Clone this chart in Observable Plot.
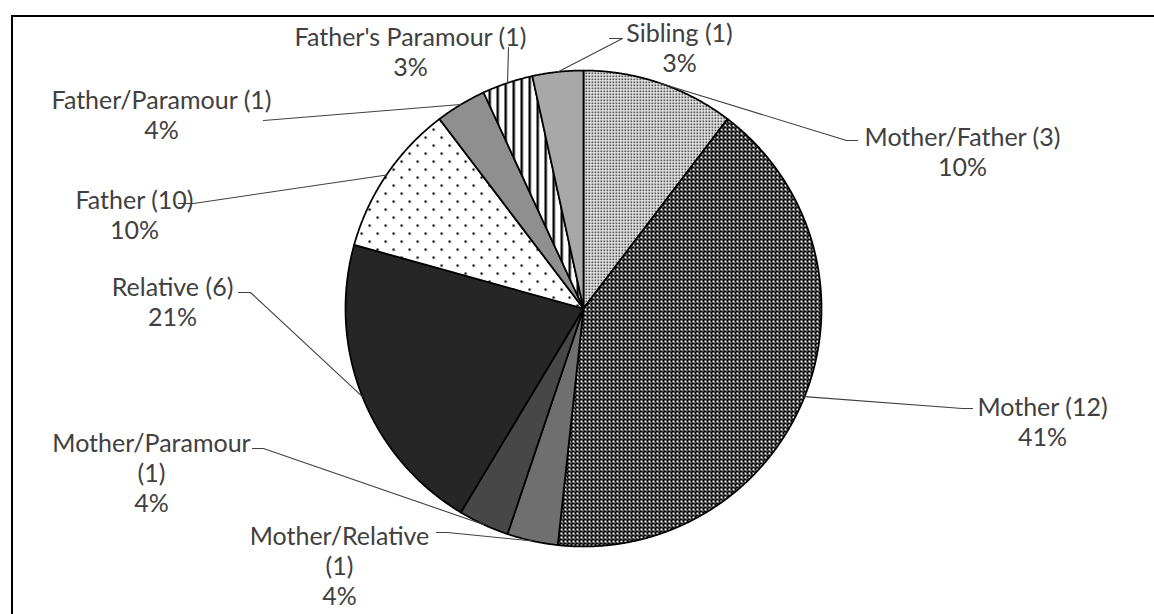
<!DOCTYPE html>
<html><head><meta charset="utf-8">
<script src="https://cdn.jsdelivr.net/npm/d3@7"></script>
<script src="https://cdn.jsdelivr.net/npm/@observablehq/plot@0.6"></script>
<style>
html,body{margin:0;padding:0;background:#fff;overflow:hidden;}
#wrap{position:relative;width:1154px;height:614px;overflow:hidden;}
#frame{position:absolute;left:11px;top:15px;width:2000px;height:2000px;border-top:2px solid #000;border-left:2px solid #000;pointer-events:none;}
</style></head><body>
<div id="wrap"><div id="chart"></div><div id="frame"></div></div>
<script>
// ---- data ----
const categories = ["Mother/Father","Mother","Mother/Relative","Mother/Paramour","Relative","Father","Father/Paramour","Father's Paramour","Sibling"];
const counts = [3,12,1,1,6,3,1,1,1];
const labelNames = ["Mother/Father (3)","Mother (12)","Mother/Relative\n(1)","Mother/Paramour\n(1)","Relative (6)","Father (10)","Father/Paramour (1)","Father's Paramour (1)","Sibling (1)"];
const percentLabels = ["10%","41%","4%","4%","21%","10%","4%","3%","3%"];

// ---- styles ----
const sliceFills = ["url(#pMF)","url(#pM)","#6f6f6f","#474747","#262626","url(#pF)","#8f8f8f","url(#pFP)","#a8a8a8"];

// ---- layout (pixels) ----
const W = 1154, H = 614, CX = 583, CY = 308, R = 238;
const FS = 25, LH = 30;
const labelLayout = [
  {tx: 962,  base: 142, pts: [[846,140],[857,140]]},
  {tx: 1042, base: 412, pts: [[962,408],[972,408]]},
  {tx: 339,  base: 541, pts: [[447,532],[436,532]]},
  {tx: 151,  base: 448, pts: [[263,448],[252,448]]},
  {tx: 172,  base: 292, pts: [[250,292],[238,292]]},
  {tx: 134,  base: 205, pts: [[193,203],[178,203]]},
  {tx: 161,  base: 105, pts: [[263,120]]},
  {tx: 410,  base: 42,  pts: [[508,47]]},
  {tx: 679,  base: 38,  pts: [[622,38],[609,38]]}
];
const toX = px => (px - CX) / R;
const toY = py => (CY - py) / R;

const arcs = d3.pie().sort(null).value(d => d)(counts);

const sliceMarks = arcs.map((a, i) => {
  const n = Math.max(4, Math.ceil((a.endAngle - a.startAngle) / (Math.PI / 720)));
  const pts = [[0, 0]];
  for (let k = 0; k <= n; k++) {
    const t = a.startAngle + (a.endAngle - a.startAngle) * k / n;
    pts.push([Math.sin(t), Math.cos(t)]);
  }
  return Plot.line(pts, {x: d => d[0], y: d => d[1], curve: "linear-closed",
    fill: sliceFills[i], stroke: "#000", strokeWidth: 1.75, strokeLinejoin: "round"});
});

const leaderMarks = arcs.map((a, i) => {
  const m = (a.startAngle + a.endAngle) / 2;
  const pts = [[Math.sin(m), Math.cos(m)], ...labelLayout[i].pts.map(([px, py]) => [toX(px), toY(py)])];
  return Plot.line(pts, {x: d => d[0], y: d => d[1], stroke: "#404040", strokeWidth: 1.1, curve: "linear"});
});

const labelData = categories.map((c, i) => ({
  x: toX(labelLayout[i].tx),
  y: toY(labelLayout[i].base - 0.71 * FS),
  text: labelNames[i] + "\n" + percentLabels[i]
}));

const svg = Plot.plot({
  width: W, height: H, margin: 0,
  x: {domain: [toX(0), toX(W)], axis: null},
  y: {domain: [toY(H), toY(0)], axis: null},
  style: {background: "transparent", overflow: "visible"},
  marks: [
    ...sliceMarks,
    ...leaderMarks,
    Plot.text(labelData, {x: "x", y: "y", text: "text", textAnchor: "middle", lineAnchor: "top",
      lineHeight: LH / FS, fontSize: FS, fontFamily: "Lato", fill: "#404040"})
  ]
});

svg.insertAdjacentHTML("afterbegin", `
<defs>
  <pattern id="pMF" patternUnits="userSpaceOnUse" width="3" height="3">
    <rect width="3" height="3" fill="#fff"/><rect x="0" y="0" width="1.6" height="1.6" fill="#000"/>
  </pattern>
  <pattern id="pM" patternUnits="userSpaceOnUse" width="4" height="4">
    <rect width="4" height="4" fill="#000"/><rect x="0" y="0" width="2" height="2" fill="#fff"/><rect x="2" y="2" width="1" height="1" fill="#fff"/>
  </pattern>
  <pattern id="pF" patternUnits="userSpaceOnUse" width="16" height="16">
    <rect width="16" height="16" fill="#fff"/><rect x="0" y="0" width="2.2" height="2.2" fill="#000"/><rect x="8" y="8" width="2.2" height="2.2" fill="#000"/>
  </pattern>
  <pattern id="pFP" patternUnits="userSpaceOnUse" width="8" height="8">
    <rect width="8" height="8" fill="#fff"/><rect x="0" y="0" width="2.4" height="8" fill="#000"/>
  </pattern>
</defs>`);

document.getElementById("chart").appendChild(svg);
</script>
</body></html>
